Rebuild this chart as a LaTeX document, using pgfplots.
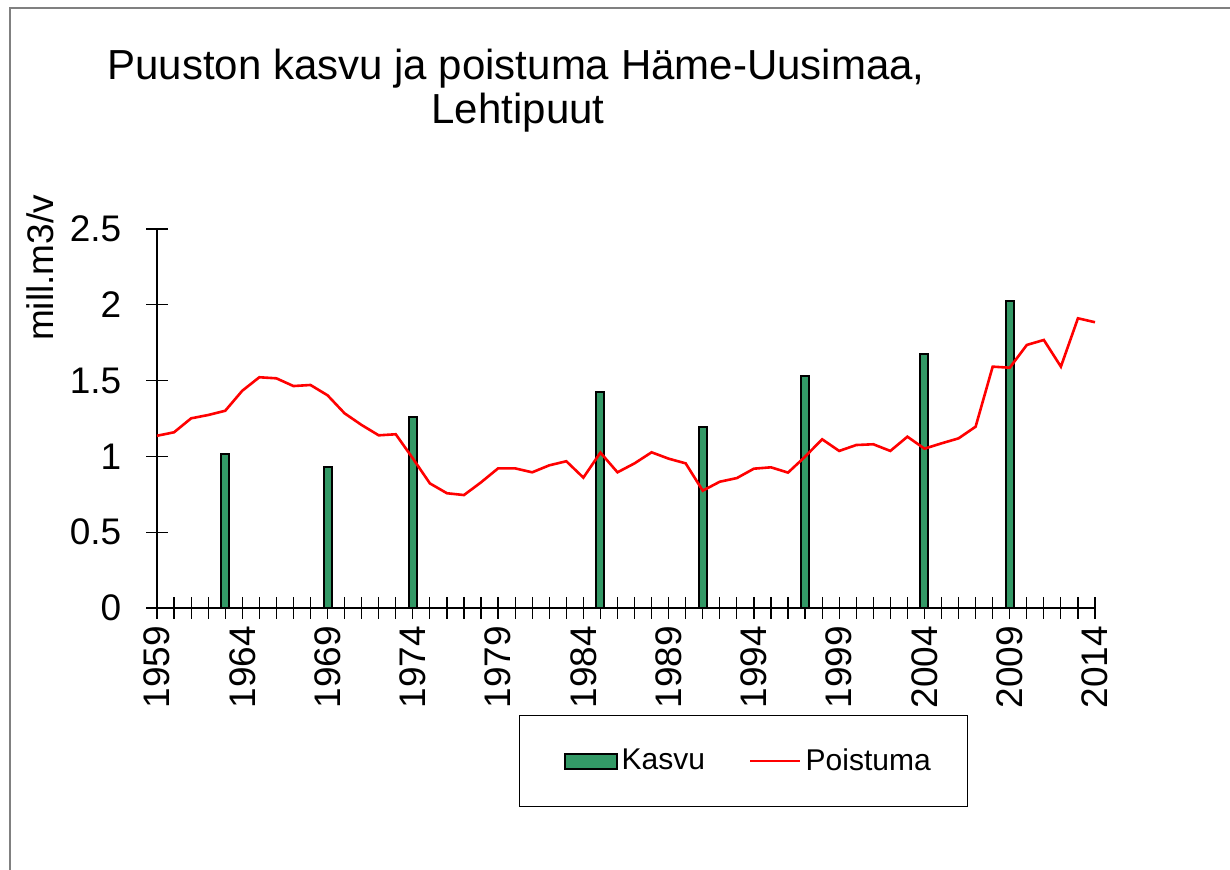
\documentclass[border=0pt]{standalone}
\usepackage{pgfplots}
\pgfplotsset{compat=1.18}
\usepackage{fontspec}
\setmainfont{Liberation Sans}
\definecolor{kasvu}{HTML}{339966}
\pgfplotsset{
    kasvuleg/.style={legend image code/.code={\path (-6pt,0pt); \draw[##1] (0pt,-3.75pt) rectangle (26pt,3.75pt);}},
    poistleg/.style={legend image code/.code={\draw[##1] (0pt,0pt) -- (25pt,0pt);}},
}

\begin{document}
\begin{tikzpicture}
% 1 px of the reference = 0.5pt, axis box lower-left at (0,0)
\useasboundingbox (-78.5pt,-131pt) rectangle (536.5pt,304pt);
\draw[gray, line width=0.8pt] (-73.5pt,-140pt) -- (-73.5pt,300pt) -- (540pt,300pt);
\begin{axis}[
    at={(0,0)}, anchor=south west,
    scale only axis,
    width=469pt, height=189.5pt,
    xmin=1959, xmax=2014,
    ymin=0, ymax=2.5,
    axis x line=bottom, axis y line=left,
    axis line style={-, line width=0.7pt},
    xtick={1959,1964,...,2014},
    minor x tick num=4,
    ytick={0,0.5,...,2.5},
    tick align=center,
    major tick length=11pt, minor tick length=11pt,
    tick style={black, line width=0.6pt},
    /pgf/number format/assume math mode=true,
    /pgf/number format/1000 sep={},
    xticklabel style={rotate=90, anchor=east, font=\fontsize{18.5}{20}\selectfont},
    yticklabel style={anchor=east, inner xsep=12.2pt, font=\fontsize{18.5}{20}\selectfont},
    ylabel={mill.m3/v},
    every axis y label/.style={at={(axis description cs:-0.1247,0.897)}, rotate=90, anchor=center, font=\fontsize{18.5}{20}\selectfont},
    clip=false,
    legend columns=2,
    legend style={at={(axis description cs:0.625,-0.404)}, anchor=center,
        draw=black, line width=0.5pt, font=\fontsize{15}{18}\selectfont,
        inner xsep=16.25pt, inner ysep=14.5pt,
        /tikz/every even column/.append style={column sep=20pt}},
]
\addplot[ybar, bar width=4pt, bar shift=0pt, fill=kasvu, draw=black, line width=1pt, kasvuleg]
coordinates {
(1963,1.014) (1969,0.932) (1974,1.258) (1985,1.427)
(1991,1.196) (1997,1.53) (2004,1.673) (2009,2.025)
};
\addlegendentry{Kasvu}
\addplot[red, line width=1.3pt, mark=none, poistleg]
coordinates {
(1959,1.136) (1960,1.159) (1961,1.251) (1962,1.273) (1963,1.301)
(1964,1.433) (1965,1.522) (1966,1.515) (1967,1.464) (1968,1.471)
(1969,1.403) (1970,1.284) (1971,1.207) (1972,1.139) (1973,1.146)
(1974,0.987) (1975,0.822) (1976,0.757) (1977,0.745) (1978,0.829)
(1979,0.921) (1980,0.921) (1981,0.895) (1982,0.941) (1983,0.968)
(1984,0.860) (1985,1.025) (1986,0.895) (1987,0.954) (1988,1.027)
(1989,0.985) (1990,0.954) (1991,0.774) (1992,0.833) (1993,0.857)
(1994,0.919) (1995,0.928) (1996,0.893) (1997,0.998) (1998,1.113)
(1999,1.036) (2000,1.075) (2001,1.080) (2002,1.036) (2003,1.130)
(2004,1.051) (2005,1.086) (2006,1.119) (2007,1.196) (2008,1.592)
(2009,1.585) (2010,1.735) (2011,1.768) (2012,1.592) (2013,1.911)
(2014,1.885)
};
\addlegendentry{Poistuma}
\end{axis}
\node[anchor=base, font=\fontsize{21}{24}\selectfont] at (179.5pt,264pt) {Puuston kasvu ja poistuma Häme-Uusimaa,};
\node[anchor=base, font=\fontsize{21}{24}\selectfont] at (180.5pt,242pt) {Lehtipuut};
\end{tikzpicture}
\end{document}
